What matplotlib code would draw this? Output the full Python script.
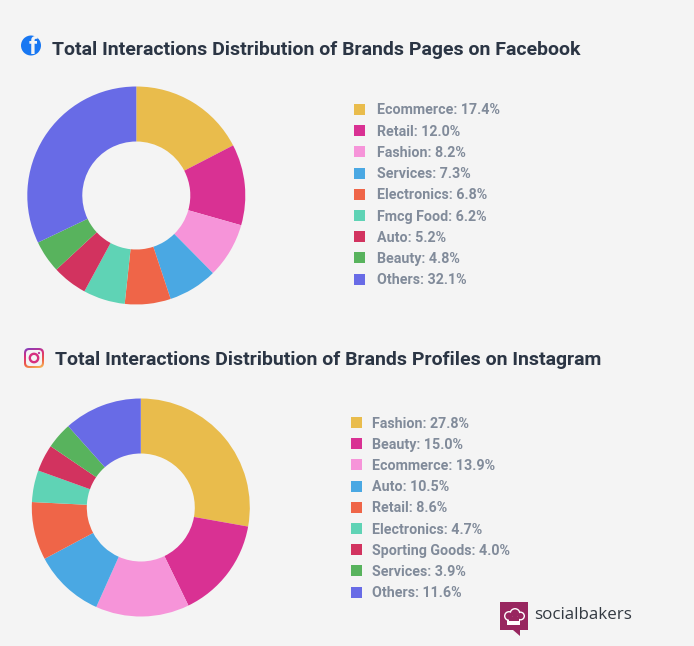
import numpy as np
import matplotlib
matplotlib.use('Agg')
import matplotlib.pyplot as plt
from matplotlib.patches import Circle, FancyBboxPatch, Polygon, Rectangle

H = 646
plt.rcParams['font.family'] = ['Roboto', 'DejaVu Sans']

colors = ['#e9bc4c', '#d93193', '#f694d9', '#4aa8e3', '#ef6548', '#5fd3b5', '#d2335f', '#58b35d', '#686be6']

fb_data = {'Ecommerce': 17.4, 'Retail': 12.0, 'Fashion': 8.2, 'Services': 7.3, 'Electronics': 6.8,
           'Fmcg Food': 6.2, 'Auto': 5.2, 'Beauty': 4.8, 'Others': 32.1}
ig_data = {'Fashion': 27.8, 'Beauty': 15.0, 'Ecommerce': 13.9, 'Auto': 10.5, 'Retail': 8.6,
           'Electronics': 4.7, 'Sporting Goods': 4.0, 'Services': 3.9, 'Others': 11.6}

fig = plt.figure(figsize=(6.94, 6.46), dpi=100, facecolor='#f4f4f4')
ax = fig.add_axes([0, 0, 1, 1])
ax.set_xlim(0, 694)
ax.set_ylim(0, H)
ax.axis('off')


def donut(data, cx, cy, leg_x, text_x, leg_y):
    ax.pie(list(data.values()), colors=colors, startangle=90, counterclock=False, center=(cx, H - cy),
           radius=109, wedgeprops={'width': 55, 'linewidth': 0}, frame=True)
    for i, (name, val) in enumerate(data.items()):
        y = H - (leg_y + i * 21.2)
        ax.add_patch(Rectangle((leg_x, y - 5.5), 11, 11, color=colors[i], lw=0))
        ax.text(text_x, y - 1, f'{name}: {val}%', fontsize=10.25, fontweight='bold', color='#818b9a', va='center')


donut(fb_data, 136.3, 195.5, 354, 377, 109.5)
donut(ig_data, 140.8, 507.5, 351, 372, 422.5)

ax.text(52, H - 50, 'Total Interactions Distribution of Brands Pages on Facebook', fontsize=14.03,
        fontweight='bold', color='#2b3544', va='center')
ax.text(55, H - 360, 'Total Interactions Distribution of Brands Profiles on Instagram', fontsize=14.03,
        fontweight='bold', color='#2b3544', va='center')

# facebook icon
ax.add_patch(Circle((31, H - 45.5), 10, color='#1877f2', lw=0))
ax.text(32.5, H - 47, 'f', fontsize=17, fontweight='bold', color='#f4f4f4', ha='center', va='center')

# instagram icon
grad = np.linspace(0, 1, 40)[:, None] + np.linspace(0, 0.3, 40)[None, :]
cmap = matplotlib.colors.LinearSegmentedColormap.from_list('ig', ['#7b3fc4', '#d6307f', '#ee5a45', '#f7c35a'])
im = ax.imshow(grad, extent=(24, 44, H - 368, H - 348), cmap=cmap, origin='upper', aspect='auto', zorder=3)
box = FancyBboxPatch((24, H - 368), 20, 20, boxstyle='round,pad=0,rounding_size=5', fc='none', ec='none')
ax.add_patch(box)
im.set_clip_path(box)
ax.add_patch(FancyBboxPatch((26, H - 366), 16, 16, boxstyle='round,pad=0,rounding_size=3.5', fc='#f4f4f4', ec='none', zorder=4))
ax.add_patch(Circle((34, H - 358), 4.2, fc='none', ec='#d6307f', lw=1.7, zorder=5))
ax.add_patch(Circle((39, H - 353), 1.1, fc='#b8329f', lw=0, zorder=5))
ax.set_xlim(0, 694)
ax.set_ylim(0, H)

# socialbakers logo
ax.add_patch(Rectangle((500, H - 630), 28, 28, color='#98265f', lw=0))
ax.add_patch(Polygon([(513, H - 630), (520, H - 630), (520, H - 636)], color='#98265f', lw=0))
# chef hat: white shapes with the maroon cut in
for c, r in [((509, H - 616), 5), ((515, H - 613.5), 5.5), ((520.5, H - 616), 4.5)]:
    ax.add_patch(Circle(c, r, color='white', lw=0, zorder=4))
ax.add_patch(Rectangle((507.5, H - 624.5), 13, 8, color='white', lw=0, zorder=4))
for c, r in [((509, H - 616), 3.6), ((515, H - 613.5), 4.1), ((520.5, H - 616), 3.1)]:
    ax.add_patch(Circle(c, r, color='#98265f', lw=0, zorder=5))
ax.add_patch(Rectangle((509, H - 621), 10, 4.5, color='#98265f', lw=0, zorder=5))
ax.text(534.5, H - 615, 'socialbakers', fontsize=12.2, color='#333a42', va='center',
        family=['Open Sans', 'DejaVu Sans'])

plt.savefig('out.png', dpi=100, facecolor=fig.get_facecolor())
